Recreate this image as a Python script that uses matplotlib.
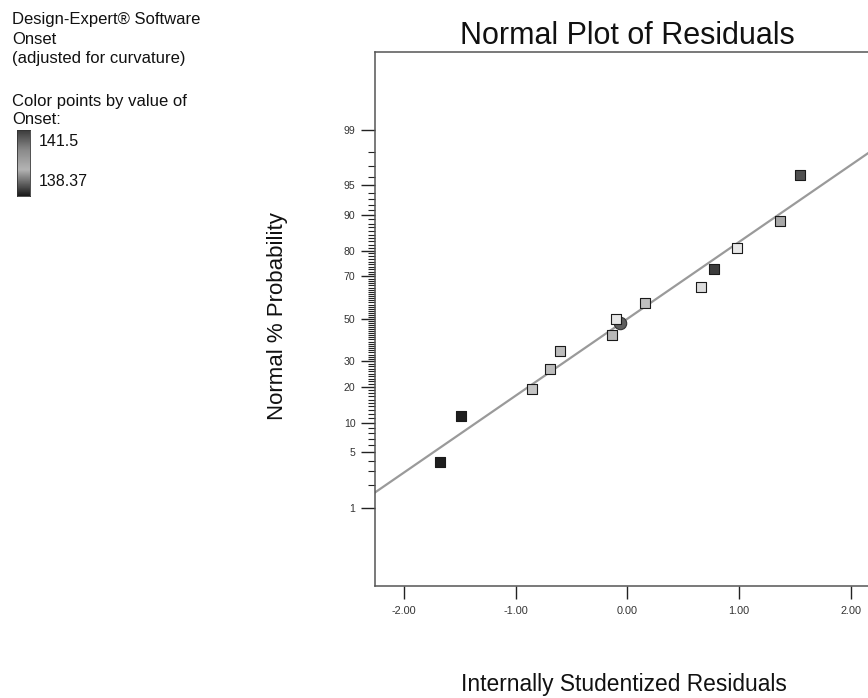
import math
from statistics import NormalDist
import numpy as np
import matplotlib
matplotlib.use('Agg')
import matplotlib.pyplot as plt
from matplotlib.colors import LinearSegmentedColormap

plt.rcParams['font.family'] = ['Liberation Sans', 'DejaVu Sans']

# values
residuals = [-1.68, -1.49, -0.85, -0.69, -0.60, -0.14, -0.10, 0.16, 0.66, 0.78, 0.98, 1.37, 1.55]
probability = [3.85, 11.5, 19.2, 26.9, 34.6, 42.3, 50.0, 57.7, 65.4, 73.1, 80.8, 88.5, 96.2]
point_grays = ['#1e1e1e', '#1e1e1e', '#c4c4c4', '#bcbcbc', '#bcbcbc', '#b8b8b8', '#e6e6e6',
               '#bfbfbf', '#dcdcdc', '#3c3c3c', '#e8e8e8', '#a8a8a8', '#505050']
center_residual = [-0.065]
center_probability = [47.8]
fit_slope = 0.948
fit_intercept = 0.0
prob_ticks = [1, 5, 10, 20, 30, 50, 70, 80, 90, 95, 99]
resid_ticks = [-2, -1, 0, 1, 2]
onset_range = ['141.5', '138.37']

nd = NormalDist()


def prob_to_z(p):
    p = np.clip(np.asarray(p, dtype=float), 1e-6, 100 - 1e-6)
    return np.vectorize(lambda v: nd.inv_cdf(v / 100), otypes=[float])(p)


def z_to_prob(z):
    z = np.asarray(z, dtype=float)
    return 50 * (1 + np.vectorize(math.erf, otypes=[float])(z / math.sqrt(2)))


W, H = 868, 698
fig = plt.figure(figsize=(W / 100, H / 100), dpi=100)
ax = fig.add_axes([375 / W, 1 - 585.7 / H, 504.6 / W, 533.7 / H])

ax.set_yscale('function', functions=(prob_to_z, z_to_prob))
ax.set_xlim(-2.258, 2.258)
ax.set_ylim(float(z_to_prob(-3.29)), float(z_to_prob(3.29)))

# fitted line
lx = np.array(ax.get_xlim())
ax.plot(lx, z_to_prob(fit_slope * lx + fit_intercept), color='#9a9a9a', lw=1.6, zorder=2)

# center point and residuals
ax.scatter(center_residual, center_probability, marker='o', s=80, c='#5e5e5e',
           edgecolors='#333333', linewidths=0.8, zorder=3)
ax.scatter(residuals, probability, marker='s', s=52, c=point_grays,
           edgecolors='#1a1a1a', linewidths=0.8, zorder=4)

ax.set_yticks(prob_ticks)
ax.set_yticklabels([str(t) for t in prob_ticks])
ax.set_yticks([v for v in range(2, 99) if v not in prob_ticks], minor=True)
ax.yaxis.set_minor_formatter(plt.NullFormatter())
ax.set_xticks(resid_ticks)
ax.set_xticklabels(['%.2f' % t for t in resid_ticks])
ax.xaxis.set_minor_locator(plt.NullLocator())

ax.tick_params(axis='y', which='major', length=10, width=1, pad=4, labelsize=7.6,
               color='#222222', labelcolor='#333333')
ax.tick_params(axis='y', which='minor', length=5, width=0.8, color='#222222')
ax.tick_params(axis='x', which='major', length=9.4, width=1, pad=5, labelsize=7.8,
               color='#222222', labelcolor='#333333')
for s in ax.spines.values():
    s.set_color('#555555')
    s.set_linewidth(1.1)

fig.text(627 / W, 1 - 43.5 / H, 'Normal Plot of Residuals', fontsize=22, ha='center',
         va='baseline', color='#111111')
fig.text(624 / W, 1 - 691.5 / H, 'Internally Studentized Residuals', fontsize=16.4,
         ha='center', va='baseline', color='#111111')
fig.text(288 / W, 1 - 316 / H, 'Normal % Probability', fontsize=16, rotation=90,
         ha='right', va='center', color='#111111')

# header text
header = [('Design-Expert® Software', 24), ('Onset', 43.5), ('(adjusted for curvature)', 63),
          ('Color points by value of', 106), ('Onset:', 123.5)]
for txt, yb in header:
    fig.text(12 / W, 1 - yb / H, txt, fontsize=12, va='baseline', color='#111111')
fig.text(39 / W, 1 - 146.5 / H, onset_range[0], fontsize=11.5, va='baseline', color='#111111')
fig.text(39 / W, 1 - 186.5 / H, onset_range[1], fontsize=11.5, va='baseline', color='#111111')

cmap = LinearSegmentedColormap.from_list(
    'onset', [(0, '#1a1a1a'), (0.4, '#b4b4b4'), (0.7, '#8a8a8a'), (1, '#3c3c3c')])
cax = fig.add_axes([17 / W, 1 - 196 / H, 13 / W, 66 / H])
cax.imshow(np.linspace(0, 1, 100).reshape(-1, 1), aspect='auto', cmap=cmap, origin='lower')
cax.set_xticks([])
cax.set_yticks([])
for s in cax.spines.values():
    s.set_color('#333333')
    s.set_linewidth(0.6)

fig.savefig('out.png', dpi=100)
